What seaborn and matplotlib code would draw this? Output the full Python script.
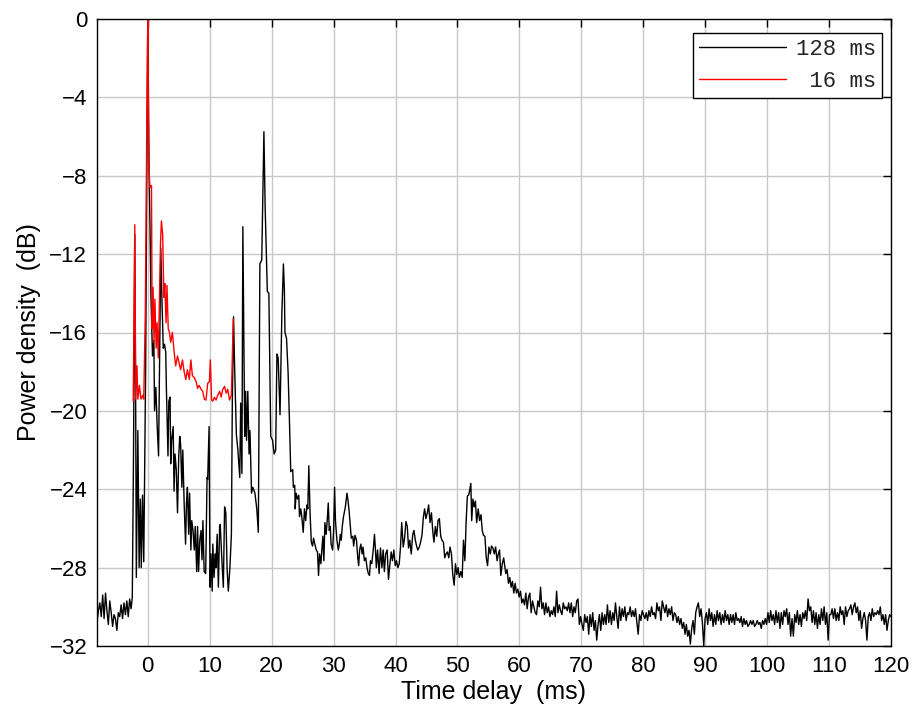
import numpy as np
import pandas as pd
import matplotlib
matplotlib.use("Agg")
import matplotlib.pyplot as plt
import seaborn as sns

# ---------------- data ----------------
# 128 ms trace: pre-echo baseline on a uniform delay grid
pre_start, pre_end = -8.2, -2.7
black_pre_db = [-30.8, -30.2, -29.8, -30.5, -29.4, -30.6, -29.3, -30.2, -30.9, -29.7,
                -30.3, -31.0, -30.4, -30.6, -31.2, -30.3, -30.5, -29.9, -30.6, -29.8,
                -30.4, -29.7, -30.5, -29.6, -30.1]

# 128 ms trace: main echo region (explicit delay / dB pairs)
black_main_t = [
    -2.5, -2.3, -2.1, -1.95, -1.85, -1.6, -1.4, -1.2, -1.05, -0.85, -0.65, -0.35, 0.0,
    0.2, 0.4, 0.5, 0.6, 0.76, 0.98, 1.09, 1.3, 1.52, 1.74, 1.96, 2.1, 2.3, 2.5, 2.7, 2.9,
    3.0, 3.26, 3.4, 3.6, 3.7, 3.85, 4.1, 4.24, 4.4, 4.6, 4.8, 5.0, 5.16, 5.3, 5.5, 5.65,
    5.87, 6.1, 6.25, 6.4, 6.6, 6.75, 6.96, 7.1, 7.3, 7.5, 7.66, 7.9, 8.04, 8.2, 8.4, 8.6,
    8.75, 8.9, 9.1, 9.35, 9.57, 9.67, 9.9, 10.05, 10.2, 10.4, 10.5, 10.7, 10.9, 11.0,
    11.2, 11.4, 11.6, 11.7, 11.96, 12.2, 12.4, 12.6, 12.8, 13.0, 13.26, 13.5, 13.65,
    13.85, 14.0, 14.3, 14.55, 14.85, 15.0, 15.2, 15.35, 15.65, 15.8, 15.95, 16.15, 16.35,
    16.5, 16.75, 16.95, 17.3, 17.6, 17.85, 18.1, 18.4, 18.75, 18.95, 19.15, 19.3, 19.55,
    19.85, 20.15, 20.4, 20.65, 20.85, 21.05, 21.35, 21.65, 21.9, 22.05, 22.15, 22.4,
    22.65, 22.86, 23.08, 23.4, 23.5, 23.73, 23.8, 23.95, 24.16, 24.38, 24.5, 24.7, 24.86,
    25.1, 25.3, 25.5, 25.7, 25.84, 26.0, 26.2, 26.4, 26.6, 26.76, 26.97, 27.2, 27.4,
    27.57, 27.73, 27.95, 28.1, 28.27, 28.43, 28.6, 28.8, 28.97, 29.14, 29.3, 29.46, 29.6,
    29.84, 30.0, 30.16, 30.3, 30.54, 30.76, 30.92, 31.08, 31.24, 31.4, 31.6, 31.9, 32.16,
    32.3, 32.5, 32.7, 32.86, 33.1, 33.24, 33.46, 33.7, 33.9, 34.05, 34.2, 34.4, 34.6,
    34.76, 34.97, 35.2, 35.4, 35.6, 35.8, 35.95, 36.16, 36.4, 36.6, 36.76, 36.9, 37.1,
    37.35, 37.57, 37.8, 38.0, 38.2, 38.4, 38.65, 38.86, 39.1, 39.3, 39.5, 39.73, 39.95,
    40.16, 40.38, 40.6, 40.8, 41.0, 41.24, 41.46, 41.68, 41.9, 42.1, 42.3, 42.54, 42.76,
    42.97, 43.2, 43.4, 43.6, 43.84, 44.05, 44.27, 44.5, 44.7, 44.9, 45.14, 45.35, 45.57,
    45.8, 46.0, 46.2, 46.43, 46.65, 46.86, 47.08, 47.3, 47.5, 47.73, 47.95, 48.16, 48.38,
    48.6, 48.8, 49.03, 49.24, 49.46, 49.68, 49.9, 50.1, 50.3, 50.54, 50.76, 50.97, 51.2,
    51.4, 51.6, 51.8, 51.95, 52.16, 52.3, 52.5, 52.7, 52.9, 53.1, 53.35, 53.57, 53.8,
    54.0, 54.2, 54.43, 54.65, 54.86, 55.08, 55.3, 55.5, 55.73, 55.95, 56.16, 56.4, 56.6,
    56.8, 57.0, 57.24, 57.46]
black_main_db = [
    -29.5, -22.0, -11.0, -20.0, -28.5, -21.0, -28.0, -24.5, -28.0, -24.3, -27.7, -18.0, 0.0,
    -7.5, -11.5, -14.0, -15.2, -17.2, -16.4, -20.0, -18.8, -20.8, -22.3, -16.0, -11.7, -14.5,
    -16.8, -16.6, -17.0, -18.8, -22.3, -19.5, -19.3, -22.7, -21.5, -20.8, -24.1, -22.2, -23.0,
    -25.2, -22.3, -21.3, -21.7, -23.9, -22.0, -24.7, -26.8, -24.7, -23.9, -26.3, -24.2, -27.1,
    -25.6, -26.1, -27.1, -25.9, -28.2, -25.9, -28.2, -26.6, -26.1, -27.6, -25.6, -28.2, -28.3,
    -23.4, -23.5, -20.8, -29.0, -27.3, -29.2, -26.8, -28.5, -27.3, -28.0, -26.3, -29.0, -25.9,
    -25.8, -27.6, -29.0, -24.9, -25.2, -28.0, -29.2, -28.0, -26.3, -19.5, -15.2, -17.5, -21.2,
    -22.0, -23.4, -19.6, -23.2, -10.6, -21.3, -19.0, -21.5, -19.0, -22.2, -21.0, -24.2, -23.9,
    -24.2, -25.0, -26.2, -12.5, -12.3, -5.75, -9.6, -12.0, -13.9, -14.0, -21.3, -21.5, -22.2,
    -22.0, -17.1, -17.3, -20.2, -15.0, -12.5, -13.8, -16.0, -16.3, -18.0, -20.35, -23.1,
    -23.0, -23.9, -23.8, -25.0, -24.2, -24.5, -24.3, -25.4, -25.0, -25.4, -26.2, -25.0, -25.6,
    -24.8, -25.0, -22.8, -25.2, -26.7, -26.9, -26.5, -26.8, -27.1, -27.2, -28.4, -27.3, -27.8,
    -27.1, -26.4, -27.65, -25.7, -26.3, -25.6, -24.7, -26.1, -25.9, -26.8, -27.1, -26.1, -23.9,
    -25.6, -26.6, -27.1, -26.8, -26.3, -26.6, -25.9, -25.4, -24.9, -24.2, -24.5, -25.1, -25.9,
    -26.5, -26.4, -26.9, -26.35, -26.6, -27.5, -27.9, -27.1, -26.8, -27.3, -26.95, -27.65,
    -27.5, -28.0, -28.3, -28.4, -27.65, -27.8, -27.1, -26.3, -27.1, -28.0, -27.1, -28.3, -27.0,
    -28.0, -27.1, -28.2, -27.3, -27.1, -28.6, -27.8, -27.2, -27.65, -27.1, -27.9, -27.65, -28.0,
    -27.8, -26.95, -25.7, -26.95, -26.5, -25.65, -25.9, -27.0, -26.6, -27.3, -26.35, -26.1,
    -26.6, -26.9, -27.1, -26.95, -26.7, -26.35, -25.4, -25.0, -25.5, -25.2, -24.8, -25.7, -25.2,
    -26.1, -26.7, -25.9, -26.4, -25.6, -25.5, -26.4, -26.6, -26.7, -27.5, -27.3, -27.2, -27.5,
    -26.95, -27.3, -28.35, -28.9, -27.8, -28.35, -28.0, -28.5, -28.2, -28.5, -26.6, -27.65,
    -25.65, -24.35, -24.3, -24.1, -23.7, -25.6, -24.5, -24.9, -24.6, -25.7, -25.0, -25.6, -25.3,
    -26.1, -26.35, -26.4, -27.5, -27.9, -26.95, -27.3, -26.9, -27.0, -27.3, -26.95, -27.65,
    -27.3, -27.1, -28.4, -27.8, -27.5]

# 128 ms trace: late noise floor on a uniform delay grid
tail_start, tail_end = 57.8, 120.0
black_tail_db = [
    -28.3, -28.1, -28.8, -28.5, -29.0, -28.7, -29.3, -28.8, -29.3, -29.1, -29.5, -29.2, -29.8,
    -29.6, -29.9, -29.3, -30.1, -29.5, -29.3, -30.3, -29.7, -30.0, -30.3, -30.4, -29.7, -30.0,
    -29.0, -30.1, -29.8, -30.4, -29.8, -30.3, -30.0, -30.5, -30.2, -30.4, -30.0, -30.5, -29.2,
    -30.3, -29.9, -30.2, -30.4, -29.8, -30.1, -30.0, -30.2, -29.8, -30.3, -29.8, -30.5, -30.0,
    -30.3, -29.7, -29.6, -30.9, -30.5, -30.9, -31.2, -30.4, -30.8, -30.5, -31.4, -30.4, -31.0,
    -30.3, -31.2, -30.7, -31.7, -30.9, -30.4, -31.2, -30.3, -30.9, -30.4, -30.9, -29.9, -30.8,
    -30.2, -30.9, -30.3, -30.7, -29.8, -30.5, -31.1, -30.0, -30.7, -30.1, -30.5, -30.0, -30.7,
    -30.3, -30.4, -30.0, -30.5, -30.2, -30.5, -30.1, -30.8, -31.4, -30.4, -30.7, -30.2, -30.4,
    -30.6, -30.3, -30.7, -30.2, -30.5, -30.0, -30.4, -30.3, -30.6, -29.8, -30.2, -30.0, -30.7,
    -29.7, -30.0, -30.3, -29.9, -30.5, -30.1, -30.4, -30.0, -30.7, -30.3, -30.4, -30.8, -30.5,
    -30.9, -30.6, -31.1, -30.8, -31.4, -30.9, -31.5, -31.2, -31.9, -31.1, -30.7, -31.4, -30.3,
    -30.0, -29.8, -30.5, -30.1, -30.8, -32.0, -30.6, -30.3, -30.9, -30.1, -30.7, -30.3, -31.0,
    -30.4, -30.9, -30.2, -30.7, -30.3, -30.9, -30.4, -30.8, -30.2, -30.7, -30.4, -30.9, -30.4,
    -30.8, -30.4, -30.9, -30.3, -30.7, -30.6, -30.8, -30.5, -31.0, -30.6, -30.9, -30.7, -31.0,
    -30.9, -30.7, -30.9, -30.7, -31.0, -30.9, -30.7, -30.9, -30.8, -31.1, -30.7, -30.9, -30.6,
    -30.9, -30.3, -30.8, -30.2, -30.7, -30.4, -30.9, -30.2, -30.8, -30.3, -31.1, -30.3, -30.9,
    -30.2, -30.5, -30.1, -30.9, -30.3, -31.5, -30.6, -31.5, -30.4, -30.8, -30.2, -30.9, -30.4,
    -31.0, -30.3, -30.6, -30.2, -30.7, -29.6, -30.2, -30.0, -30.8, -30.2, -30.9, -30.3, -31.1,
    -30.4, -30.9, -30.1, -30.7, -30.0, -30.9, -30.3, -31.7, -30.4, -30.4, -30.1, -30.6, -30.1,
    -30.7, -30.3, -30.7, -30.0, -30.4, -30.2, -30.9, -30.0, -30.5, -30.2, -30.1, -29.9, -30.4,
    -30.0, -29.8, -30.3, -30.0, -30.7, -30.2, -31.1, -30.6, -30.3, -30.7, -31.7, -30.5, -30.3,
    -30.7, -30.1, -30.5, -30.3, -30.4, -30.2, -30.4, -30.0, -30.7, -30.4, -30.9, -30.4, -31.2,
    -30.7, -30.4, -30.5]

# 16 ms trace
red_t = [
    -2.35, -2.1, -1.95, -1.75, -1.6, -1.35, -1.1, -0.8, -0.65, -0.4, -0.1, 0.0, 0.15, 0.35,
    0.6, 0.7, 0.85, 1.0, 1.15, 1.35, 1.5, 1.7, 1.9, 2.05, 2.2, 2.4, 2.6, 2.75, 2.95, 3.1,
    3.3, 3.5, 3.7, 3.97, 4.24, 4.5, 4.8, 5.05, 5.3, 5.6, 5.87, 6.14, 6.4, 6.7, 6.96, 7.2,
    7.5, 7.8, 8.04, 8.3, 8.6, 8.86, 9.13, 9.4, 9.67, 9.95, 10.1, 10.3, 10.5, 10.76, 11.03,
    11.3, 11.6, 11.85, 12.1, 12.4, 12.66, 12.9, 13.2, 13.5, 13.8]
red_db = [
    -19.5, -10.5, -19.4, -17.7, -19.4, -18.7, -19.4, -19.2, -19.4, -15.0, -3.0, 0.0, -7.3,
    -8.6, -8.5, -15.8, -13.7, -16.5, -14.3, -16.8, -15.5, -17.3, -14.0, -11.5, -10.3, -11.0,
    -14.2, -13.5, -15.5, -13.6, -15.8, -16.0, -16.5, -16.0, -16.95, -17.7, -17.2, -17.55,
    -17.9, -17.4, -18.0, -18.4, -17.9, -18.4, -17.4, -18.2, -18.3, -18.5, -18.85, -18.7,
    -18.9, -19.0, -19.4, -19.45, -18.6, -18.5, -17.4, -19.45, -19.5, -19.3, -19.45, -19.2,
    -19.0, -19.3, -18.9, -18.75, -19.1, -18.9, -19.45, -19.2, -15.3]

series_labels = ["128 ms", " 16 ms"]
x_ticks = list(range(0, 121, 10))
y_ticks = list(range(-32, 1, 4))

# ---------------- assemble ----------------
black_t = np.concatenate([np.linspace(pre_start, pre_end, len(black_pre_db)),
                          np.array(black_main_t),
                          np.linspace(tail_start, tail_end, len(black_tail_db))])
black_db = np.concatenate([black_pre_db, black_main_db, black_tail_db])
df_black = pd.DataFrame({"delay": black_t, "power": black_db})
df_red = pd.DataFrame({"delay": red_t, "power": red_db})

sns.set_theme(style="white")
plt.rcParams["font.family"] = ["Liberation Sans", "DejaVu Sans"]
plt.rcParams["axes.unicode_minus"] = True

fig = plt.figure(figsize=(9.14, 7.11), dpi=100)
ax = fig.add_axes([97 / 914, 1 - 646 / 711, (891 - 97) / 914, (646 - 19) / 711])

sns.lineplot(data=df_black, x="delay", y="power", color="black", linewidth=1.0,
             estimator=None, sort=False, ax=ax, label=series_labels[0])
sns.lineplot(data=df_red, x="delay", y="power", color="#ff0000", linewidth=1.0,
             estimator=None, sort=False, ax=ax, label=series_labels[1])

ax.set_xlim(-8.2, 120)
ax.set_ylim(-32, 0)
ax.set_xticks(x_ticks)
ax.set_yticks(y_ticks)
ax.grid(True, color="#c8c8c8", linewidth=1.0)
ax.set_axisbelow(True)
ax.tick_params(direction="in", length=6, width=1, top=True, right=True,
               labelsize=16, colors="black", pad=7)
for sp in ax.spines.values():
    sp.set_color("black")
    sp.set_linewidth(1.0)
    sp.set_visible(True)

ax.set_xlabel("Time delay  (ms)", fontsize=18, color="black", labelpad=2)
ax.set_ylabel("Power density  (dB)", fontsize=18, color="black", labelpad=6)

leg = ax.legend(loc="upper right", bbox_to_anchor=(882 / 914, 1 - 33 / 711),
                bbox_transform=fig.transFigure, borderaxespad=0,
                prop={"family": "Liberation Mono", "size": 16},
                frameon=True, fancybox=False, framealpha=1, edgecolor="black",
                handlelength=3.9, borderpad=0.27, labelspacing=0.48, handletextpad=0.45)
leg.get_frame().set_linewidth(1.0)

fig.savefig("out.png", dpi=100, facecolor="white")
